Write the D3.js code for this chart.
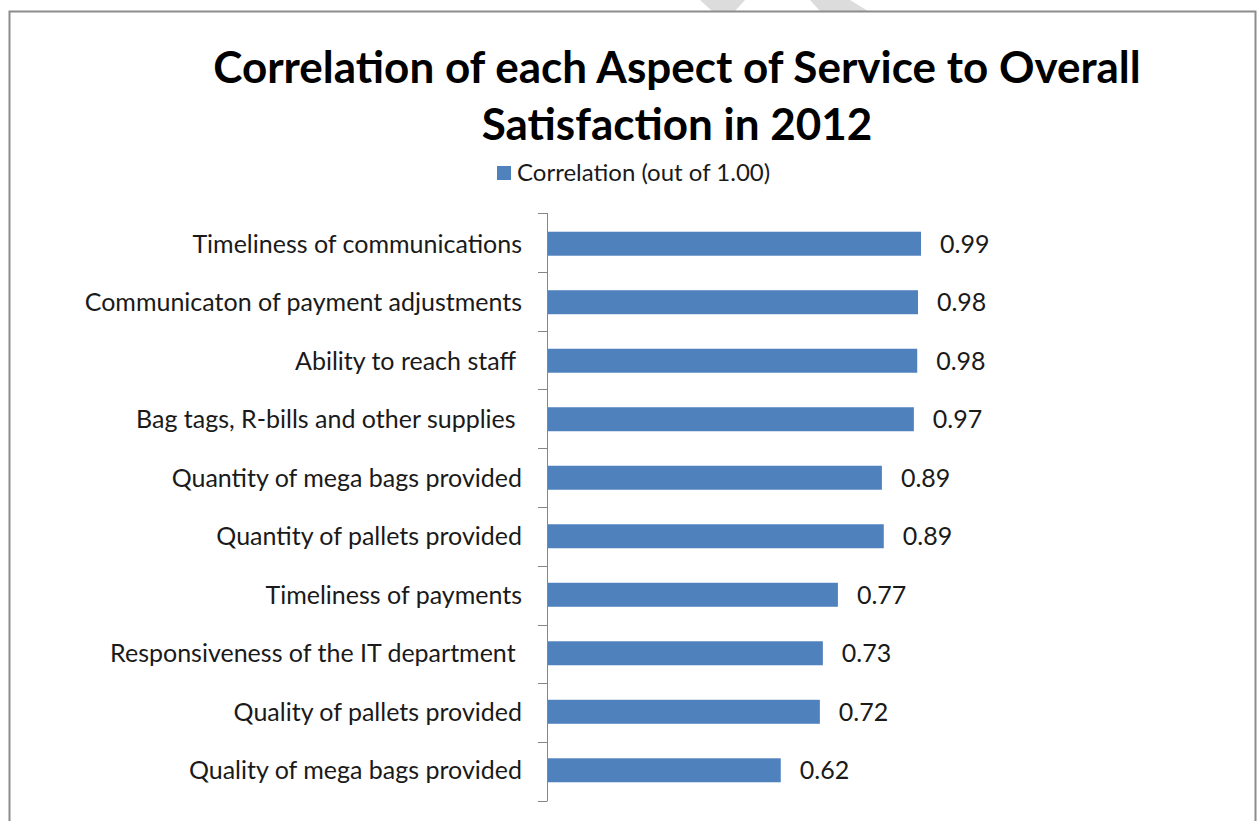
<!DOCTYPE html>
<html>
<head>
<meta charset="utf-8">
<script src="https://cdn.jsdelivr.net/npm/d3@7"></script>
<style>
  body { margin: 0; background: #fff; }
  svg text { font-family: Lato, "Open Sans", sans-serif; fill: #000; white-space: pre; }
</style>
</head>
<body>
<div class="bar-chart-container"></div>
<script>
// Data.
const categories = [
  "Timeliness of communications",
  "Communicaton of payment adjustments",
  "Ability to reach staff ",
  "Bag tags, R-bills and other supplies ",
  "Quantity of mega bags provided",
  "Quantity of pallets provided",
  "Timeliness of payments",
  "Responsiveness of the IT department ",
  "Quality of pallets provided",
  "Quality of mega bags provided",
];
const correlation = [0.992, 0.984, 0.982, 0.973, 0.888, 0.893, 0.771, 0.731, 0.723, 0.619];
const titleLines = ["Correlation of each Aspect of Service to Overall", "Satisfaction in 2012"];
const seriesName = "Correlation (out of 1.00)";

const barColor = "#4f81bd";

// Margin convention.
const W = 1257, H = 821;
const margin = { top: 213, left: 547 };
const width = 376;
const height = 588;

const svg = d3
  .select(".bar-chart-container")
  .append("svg")
  .attr("width", W)
  .attr("height", H);

// faint grey smudge at the top edge of the screenshot
svg.append("g")
  .attr("fill", "#dcdcdc")
  .selectAll("polygon")
  .data([
    [[700, 0], [745, 0], [735, 11], [712, 11]],
    [[810, 0], [850, 0], [868, 11], [820, 11]],
  ])
  .join("polygon")
  .attr("points", (d) => d.join(" "));

// Outer frame (bottom edge runs off the picture).
svg.append("path")
  .attr("d", `M9.5,${H}V11.5H1255.5V${H}`)
  .attr("fill", "none")
  .attr("stroke", "#8c8c8c")
  .attr("stroke-width", 2);

// Title.
const title = svg.append("text")
  .attr("text-anchor", "middle")
  .style("font-weight", "bold")
  .style("font-size", "44px");
title.selectAll("tspan")
  .data(titleLines)
  .join("tspan")
  .attr("x", 677)
  .attr("y", (d, i) => 83 + i * 57)
  .text((d) => d);

// Legend.
const legend = svg.append("g").attr("transform", "translate(497, 166)");
legend.append("rect").attr("width", 14).attr("height", 14).attr("fill", barColor);
legend.append("text")
  .attr("x", 20)
  .attr("y", 15)
  .style("font-size", "24px")
  .style("fill", "#1a1a1a")
  .text(seriesName);

const g = svg.append("g").attr("transform", `translate(${margin.left}, ${margin.top})`);

// Scales.
const xScale = d3.scaleLinear().domain([0, 1]).range([0, width]);
const yScale = d3.scaleBand().domain(categories).range([0, height]).paddingInner(0.59).paddingOuter(0.32);

// Category axis: ticks sit on band boundaries, like Excel.
const yAxisG = g.append("g").attr("class", "y axis");
yAxisG.append("line")
  .attr("x1", 0.5).attr("x2", 0.5)
  .attr("y1", 0).attr("y2", height)
  .attr("stroke", "#868686");
yAxisG.selectAll(".tick")
  .data(d3.range(categories.length + 1))
  .join("line")
  .attr("class", "tick")
  .attr("x1", -9).attr("x2", 0.5)
  .attr("y1", (i) => Math.round(i * height / categories.length) + 0.5)
  .attr("y2", (i) => Math.round(i * height / categories.length) + 0.5)
  .attr("stroke", "#868686");
yAxisG.selectAll(".cat-label")
  .data(categories)
  .join("text")
  .attr("class", "cat-label")
  .attr("x", -25)
  .attr("y", (d) => yScale(d) + yScale.bandwidth() / 2)
  .attr("dy", "0.36em")
  .attr("text-anchor", "end")
  .style("font-size", "25px")
  .style("fill", "#1a1a1a")
  .text((d) => d);

// Bars.
g.append("g")
  .selectAll("rect")
  .data(categories)
  .join("rect")
  .attr("x", 1)
  .attr("y", (d) => yScale(d))
  .attr("width", (d, i) => xScale(correlation[i]))
  .attr("height", yScale.bandwidth())
  .attr("fill", barColor);

// Value labels.
g.append("g")
  .selectAll("text")
  .data(categories)
  .join("text")
  .attr("x", (d, i) => xScale(correlation[i]) + 20)
  .attr("y", (d) => yScale(d) + yScale.bandwidth() / 2)
  .attr("dy", "0.36em")
  .style("font-size", "25px")
  .style("fill", "#1a1a1a")
  .text((d, i) => d3.format(".2f")(correlation[i]));
</script>
</body>
</html>
